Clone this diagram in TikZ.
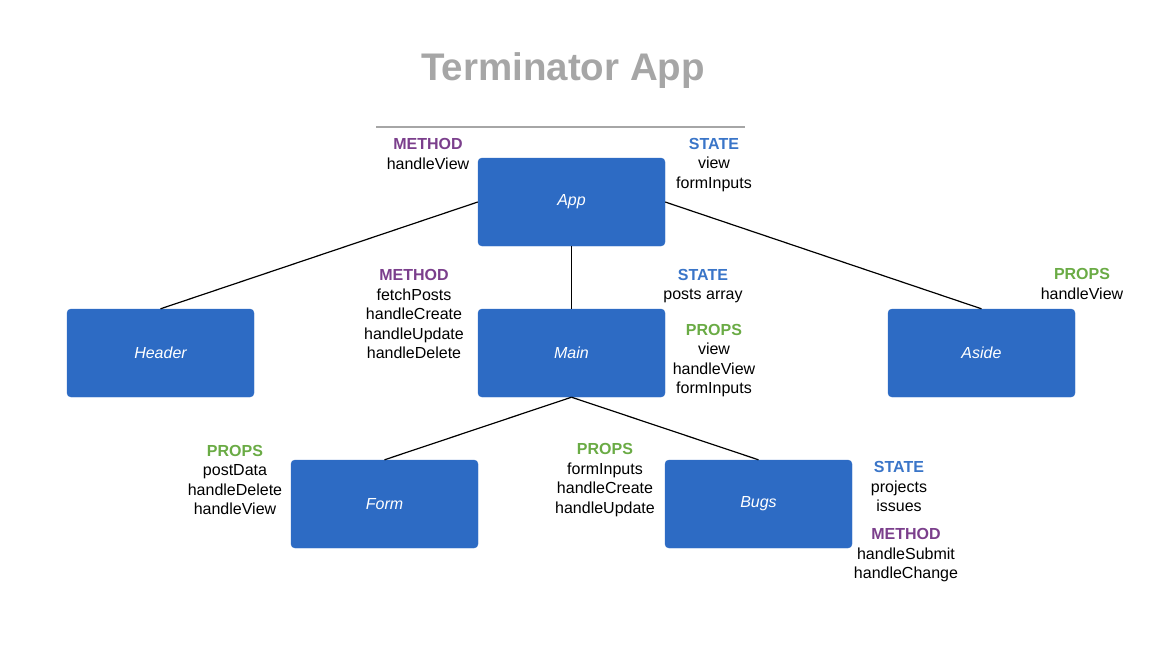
\documentclass[tikz,border=0pt]{standalone}
\usepackage{fontspec}
\setmainfont{Liberation Sans}
\definecolor{boxblue}{HTML}{2D6BC4}
\definecolor{methc}{HTML}{7B3F8C}
\definecolor{statec}{HTML}{3A75C8}
\definecolor{propsc}{HTML}{6AAB45}
\definecolor{titlec}{HTML}{A6A6A6}
\tikzset{
  comp/.style={fill=boxblue, draw=boxblue, rounded corners=4pt, minimum width=187pt, minimum height=88pt, inner sep=0pt, text=white, font=\fontsize{16}{19.5}\selectfont\itshape},
  lbl/.style={align=center, inner sep=0pt, font=\fontsize{16}{19.5}\selectfont},
  link/.style={draw=black, line width=1.2pt},
}
\newcommand{\methh}{\textcolor{methc}{\bfseries METHOD}}
\newcommand{\stateh}{\textcolor{statec}{\bfseries STATE}}
\newcommand{\propsh}{\textcolor{propsc}{\bfseries PROPS}}
\begin{document}
\begin{tikzpicture}[x=1pt,y=-1pt]
\useasboundingbox (0,0) rectangle (1176,670);
% title
\node[inner sep=0pt, text=titlec, font=\fontsize{38.5}{40}\selectfont\bfseries] (title) at (563,71) {Terminator App};
\coordinate (tl) at (376,127);
\coordinate (tr) at (745,127);
\draw[draw=titlec, line width=1.3pt] (tl) -- (tr);
% components
\node[comp] (app) at (571.5,202) {App};
\node[comp] (header) at (160.5,353) {Header};
\node[comp] (main) at (571.5,353) {Main};
\node[comp] (aside) at (981.5,353) {Aside};
\node[comp] (form) at (384.5,504) {Form};
\node[comp] (bugs) at (758.5,504) {Bugs};
% connectors
\draw[link] (app.west) -- (header.north);
\draw[link] (app.east) -- (aside.north);
\draw[link] (app.south) -- (main.north);
\draw[link] (main.south) -- (form.north);
\draw[link] (main.south) -- (bugs.north);
% labels
\node[lbl] (appm) at (428,154) {\methh\\handleView};
\node[lbl] (apps) at (714,165) {\stateh\\view\\formInputs};
\node[lbl] (mainm) at (414,314) {\methh\\fetchPosts\\handleCreate\\handleUpdate\\handleDelete};
\node[lbl] (mains) at (703,286) {\stateh\\posts array};
\node[lbl] (mainp) at (714,360.5) {\propsh\\view\\handleView\\formInputs};
\node[lbl] (asidep) at (1082,284) {\propsh\\handleView};
\node[lbl] (formp) at (235,480) {\propsh\\postData\\handleDelete\\handleView};
\node[lbl] (bugsp) at (605,480) {\propsh\\formInputs\\handleCreate\\handleUpdate};
\node[lbl] (bugss) at (899,486.5) {\stateh\\projects\\issues};
\node[lbl] (bugsm) at (906,555.5) {\methh\\handleSubmit\\handleChange};
\end{tikzpicture}
\end{document}
